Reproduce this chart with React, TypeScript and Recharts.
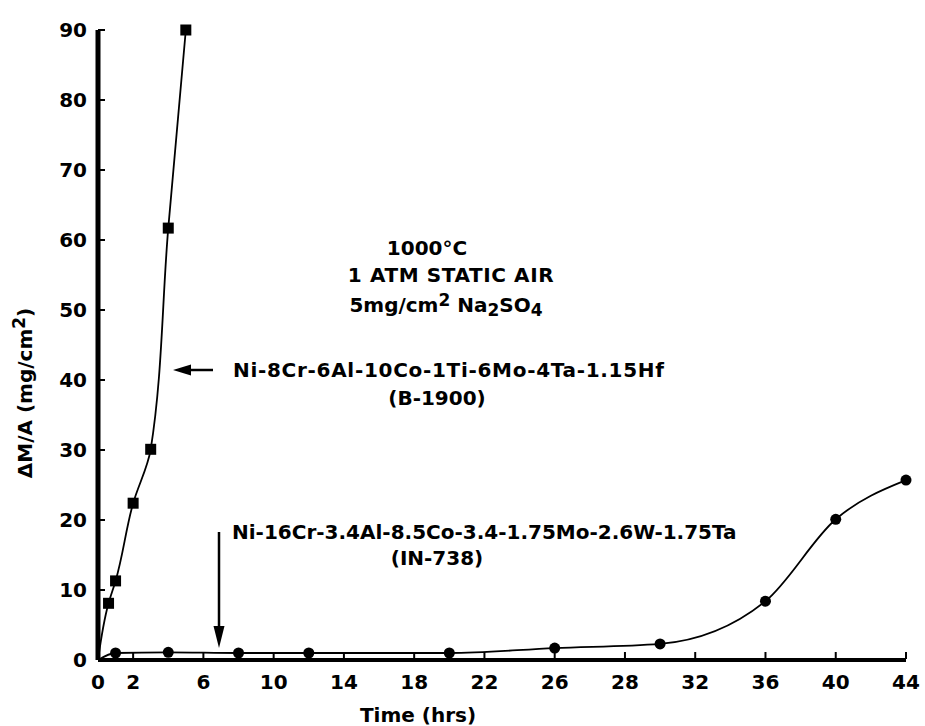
import React from "react";
import { Line, LineChart, XAxis, YAxis } from "recharts";

// B-1900 (squares) — hours vs mass gain, mg/cm2
const b1900Hours = [0, 0.6, 1, 2, 3, 4, 5];
const b1900Gain = [0, 8.1, 11.3, 22.4, 30.1, 61.7, 90];

// IN-738 (circles); hours in the axis' linear scale
const in738Hours = [0, 1, 4, 8, 12, 20, 26, 32, 38, 42, 46];
const in738Gain = [0, 1.0, 1.1, 1.0, 1.0, 1.0, 1.7, 2.3, 8.4, 20.1, 25.7];

// tick positions and the labels as printed on the original figure
const xTicks = [0, 2, 6, 10, 14, 18, 22, 26, 30, 34, 38, 42, 46];
const xTickLabels = ["0", "2", "6", "10", "14", "18", "22", "26", "28", "32", "36", "40", "44"];
const yTicks = [0, 10, 20, 30, 40, 50, 60, 70, 80, 90];

const b1900 = b1900Hours.map((x, i) => ({ x, y: b1900Gain[i] }));
const in738 = in738Hours.map((x, i) => ({ x, y: in738Gain[i] }));

const FONT = "'DejaVu Sans', sans-serif";
const txt = { fontFamily: FONT, fontWeight: 700, fontSize: 20, fill: "#000" } as const;

// ticks point into the plot, labels sit outside
const XTick = (props: any) => {
  const { x, y, payload, index } = props;
  const label = xTickLabels[xTicks.indexOf(payload.value)] ?? "";
  return (
    <g key={`xt${index}`}>
      {index > 0 && <line x1={x} x2={x} y1={y - 16} y2={y - 23} stroke="#000" strokeWidth={2} />}
      <text x={x} y={y} dy="0.72em" textAnchor="middle" {...txt}>
        {label}
      </text>
    </g>
  );
};

const YTick = (props: any) => {
  const { x, y, payload, index } = props;
  return (
    <g key={`yt${index}`}>
      {index > 0 && <line x1={x + 11} x2={x + 18} y1={y} y2={y} stroke="#000" strokeWidth={2} />}
      <text x={x} y={y} textAnchor="end" dominantBaseline="central" {...txt}>
        {payload.value}
      </text>
    </g>
  );
};

const SquareDot = (props: any) => {
  const { cx, cy, index } = props;
  if (index === 0) return <g key={`s${index}`} />;
  return <rect key={`s${index}`} x={cx - 5.5} y={cy - 5.5} width={11} height={11} fill="#000" />;
};

const CircleDot = (props: any) => {
  const { cx, cy, index } = props;
  if (index === 0) return <g key={`c${index}`} />;
  return <circle key={`c${index}`} cx={cx} cy={cy} r={5.5} fill="#000" />;
};

export default function App() {
  return (
    <div style={{ position: "absolute", left: 0, top: 0, width: 925, height: 726, background: "#fff" }}>
      <LineChart width={925} height={726} margin={{ top: 30, right: 19, bottom: 16, left: 38 }}>
        <XAxis
          dataKey="x"
          type="number"
          domain={[0, 46]}
          ticks={xTicks}
          interval={0}
          tick={XTick}
          tickSize={0}
          tickMargin={15}
          tickLine={false}
          height={50}
          axisLine={{ stroke: "#000", strokeWidth: 4 }}
        />
        <YAxis
          dataKey="y"
          type="number"
          domain={[0, 90]}
          ticks={yTicks}
          interval={0}
          tick={YTick}
          tickSize={0}
          tickMargin={11}
          tickLine={false}
          width={60}
          axisLine={{ stroke: "#000", strokeWidth: 5 }}
        />
        <Line
          data={b1900}
          dataKey="y"
          type="monotoneY"
          stroke="#000"
          strokeWidth={1.8}
          dot={SquareDot}
          activeDot={false}
          isAnimationActive={false}
        />
        <Line
          data={in738}
          dataKey="y"
          type="monotone"
          stroke="#000"
          strokeWidth={1.8}
          dot={CircleDot}
          activeDot={false}
          isAnimationActive={false}
        />
      </LineChart>
      <svg
        width={925}
        height={726}
        style={{ position: "absolute", left: 0, top: 0, pointerEvents: "none" }}
      >
        <text x={427} y={248} textAnchor="middle" dominantBaseline="central" {...txt}>
          1000°C
        </text>
        <text x={451} y={275} textAnchor="middle" dominantBaseline="central" {...txt} letterSpacing={0.6}>
          1 ATM STATIC  AIR
        </text>
        <text x={446} y={305} textAnchor="middle" dominantBaseline="central" {...txt}>
          5mg/cm
          <tspan fontSize={17} dy={-5}>2</tspan>
          <tspan dy={5}> Na</tspan>
          <tspan fontSize={17} dy={5}>2</tspan>
          <tspan dy={-5}>SO</tspan>
          <tspan fontSize={17} dy={5}>4</tspan>
        </text>
        <text x={233} y={370} dominantBaseline="central" {...txt} letterSpacing={0.7}>
          Ni-8Cr-6Al-10Co-1Ti-6Mo-4Ta-1.15Hf
        </text>
        <text x={437} y={398} textAnchor="middle" dominantBaseline="central" {...txt}>
          (B-1900)
        </text>
        <text x={232} y={532} dominantBaseline="central" {...txt}>
          Ni-16Cr-3.4Al-8.5Co-3.4-1.75Mo-2.6W-1.75Ta
        </text>
        <text x={437} y={558} textAnchor="middle" dominantBaseline="central" {...txt}>
          (IN-738)
        </text>
        <text x={418} y={715} textAnchor="middle" dominantBaseline="central" {...txt}>
          Time (hrs)
        </text>
        <text
          x={25}
          y={393}
          textAnchor="middle"
          dominantBaseline="central"
          transform="rotate(-90 25 393)"
          {...txt}
        >
          ΔM/A (mg/cm
          <tspan fontSize={17} dy={-6}>2</tspan>
          <tspan dy={6}>)</tspan>
        </text>
        {/* arrows pointing at the two curves */}
        <line x1={213} y1={370} x2={188} y2={370} stroke="#000" strokeWidth={2.5} />
        <polygon points="173,370 191,364.5 191,375.5" fill="#000" />
        <line x1={219} y1={532} x2={219} y2={628} stroke="#000" strokeWidth={2.5} />
        <polygon points="219,648 213.5,626 224.5,626" fill="#000" />
      </svg>
    </div>
  );
}
